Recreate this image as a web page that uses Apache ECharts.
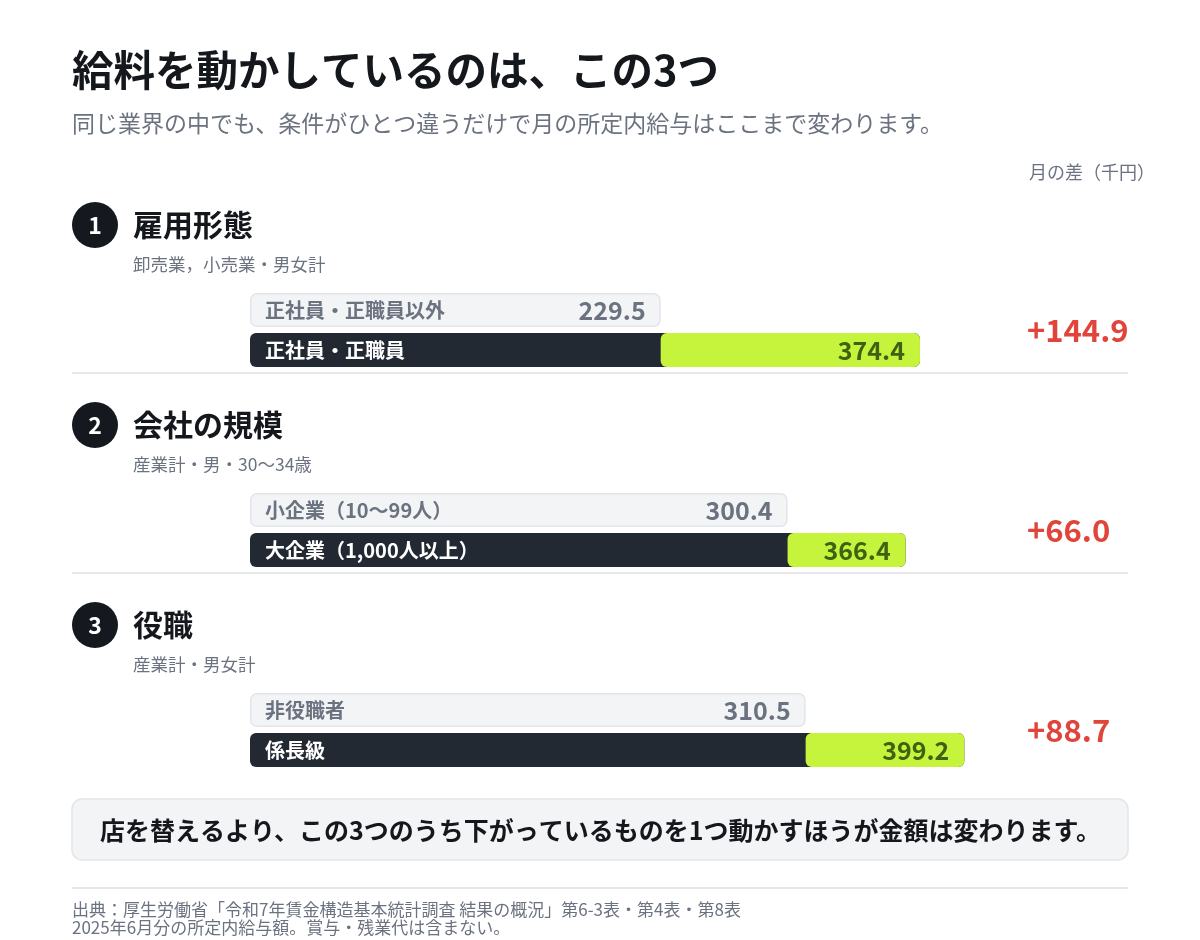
<!DOCTYPE html>
<html><head><meta charset="utf-8">
<script src="https://cdn.jsdelivr.net/npm/echarts@6/dist/echarts.min.js"></script>
<style>html,body{margin:0;padding:0;background:#fff}#c{width:1200px;height:940px}</style>
</head><body><div id="c"></div>
<script>
const titleText = '給料を動かしているのは、この3つ';
const subtitleText = '同じ業界の中でも、条件がひとつ違うだけで月の所定内給与はここまで変わります。';
const unitText = '月の差（千円）';
const sectionTitles = ['雇用形態', '会社の規模', '役職'];
const sectionNotes = ['卸売業，小売業・男女計', '産業計・男・30〜34歳', '産業計・男女計'];
const lowLabels = ['正社員・正職員以外', '小企業（10〜99人）', '非役職者'];
const highLabels = ['正社員・正職員', '大企業（1,000人以上）', '係長級'];
const lowValues = [229.5, 300.4, 310.5];
const highValues = [374.4, 366.4, 399.2];
const calloutText = '店を替えるより、この3つのうち下がっているものを1つ動かすほうが金額は変わります。';
const sourceLines = ['出典：厚生労働省「令和7年賃金構造基本統計調査 結果の概況」第6-3表・第4表・第8表', '2025年6月分の所定内給与額。賞与・残業代は含まない。'];

const FONT = '"Noto Sans CJK JP", "Noto Sans", sans-serif';
const X_MAX = 400, PX_PER = 1.7895, GRID_LEFT = 250, SEC_STEP = 200, GRID_TOP0 = 290, GRID_H = 80;
const BAR_W = 34;
const C = {ink:'#14171c', gray:'#6b7280', light:'#f3f4f6', lightBorder:'#e2e5ea', dark:'#222933', lime:'#c6f43c', olive:'#3f6212', red:'#e0443a', rule:'#e5e7eb'};

const grids = [], xAxes = [], yAxes = [], series = [], graphics = [];
sectionTitles.forEach((t, i) => {
  const top = GRID_TOP0 + SEC_STEP * i;
  grids.push({left: GRID_LEFT, top: top, width: X_MAX * PX_PER, height: GRID_H});
  xAxes.push({gridIndex: i, type: 'value', min: 0, max: X_MAX, show: false});
  yAxes.push({gridIndex: i, type: 'category', inverse: true, data: [lowLabels[i], highLabels[i]], show: false});
  const common = {type: 'bar', xAxisIndex: i, yAxisIndex: i, barWidth: BAR_W, barGap: '-100%', silent: true, animation: false};
  const labelFont = {fontFamily: FONT, fontWeight: 'bold'};
  series.push(Object.assign({}, common, {
    data: [
      {value: lowValues[i], itemStyle: {color: C.light, borderColor: C.lightBorder, borderWidth: 1.5, borderRadius: 6},
       label: {color: C.gray}},
      {value: highValues[i], itemStyle: {color: C.dark, borderRadius: 6}, label: {color: '#ffffff'}}
    ],
    label: Object.assign({show: true, position: 'insideLeft', distance: 15, formatter: '{b}', fontSize: 20}, labelFont)
  }));
  series.push(Object.assign({}, common, {
    data: [lowValues[i], '-'],
    itemStyle: {color: 'rgba(0,0,0,0)'},
    label: Object.assign({show: true, position: 'insideRight', distance: 15, color: C.gray, fontSize: 25,
      formatter: p => Number(p.value).toFixed(1)}, labelFont)
  }));
  series.push(Object.assign({}, common, {
    stack: 'gap' + i,
    data: ['-', lowValues[i]],
    itemStyle: {color: 'rgba(0,0,0,0)'}
  }));
  series.push(Object.assign({}, common, {
    stack: 'gap' + i,
    data: ['-', +(highValues[i] - lowValues[i]).toFixed(1)],
    itemStyle: {color: C.lime, borderRadius: 6},
    label: Object.assign({show: true, position: 'insideRight', distance: 15, color: C.olive, fontSize: 25,
      formatter: () => highValues[i].toFixed(1)}, labelFont)
  }));

  const cy = 225 + SEC_STEP * i;
  graphics.push({type: 'circle', shape: {cx: 95, cy: cy, r: 23}, style: {fill: '#15191f'}});
  graphics.push({type: 'text', x: 95, y: cy, style: {text: String(i + 1), fill: '#fff', font: 'bold 23px ' + FONT, align: 'center', verticalAlign: 'middle'}});
  graphics.push({type: 'text', x: 133, y: cy, style: {text: t, fill: C.ink, font: 'bold 30px ' + FONT, verticalAlign: 'middle'}});
  graphics.push({type: 'text', x: 133, y: cy + 39, style: {text: sectionNotes[i], fill: C.gray, font: '17.5px ' + FONT, verticalAlign: 'middle'}});
  const diff = highValues[i] - lowValues[i];
  graphics.push({type: 'text', x: 1027, y: top + GRID_H / 2, style: {text: '+' + diff.toFixed(1), fill: C.red, font: 'bold 31px ' + FONT, verticalAlign: 'middle'}});
  if (i < sectionTitles.length - 1) {
    graphics.push({type: 'line', shape: {x1: 72, y1: top + 83, x2: 1128, y2: top + 83}, style: {stroke: C.rule, lineWidth: 2}});
  }
});

graphics.push({type: 'text', x: 72, y: 70, style: {text: titleText, fill: C.ink, font: 'bold 41.5px ' + FONT, verticalAlign: 'middle'}});
graphics.push({type: 'text', x: 72, y: 123, style: {text: subtitleText, fill: C.gray, font: '23px ' + FONT, verticalAlign: 'middle'}});
graphics.push({type: 'text', x: 1155, y: 172, style: {text: unitText, fill: C.gray, font: '18px ' + FONT, align: 'right', verticalAlign: 'middle'}});
graphics.push({type: 'rect', shape: {x: 72, y: 799, width: 1056, height: 61, r: 10}, style: {fill: C.light, stroke: C.lightBorder, lineWidth: 1.5}});
graphics.push({type: 'text', x: 100, y: 830, style: {text: calloutText, fill: C.ink, font: 'bold 25px ' + FONT, verticalAlign: 'middle'}});
graphics.push({type: 'line', shape: {x1: 72, y1: 888, x2: 1128, y2: 888}, style: {stroke: C.rule, lineWidth: 2}});
sourceLines.forEach((s, k) => {
  graphics.push({type: 'text', x: 72, y: 910 + 18 * k, style: {text: s, fill: C.gray, font: '17px ' + FONT, verticalAlign: 'middle'}});
});

const chart = echarts.init(document.getElementById('c'), null, {renderer: 'canvas'});
chart.setOption({
  backgroundColor: '#ffffff',
  animation: false,
  grid: grids, xAxis: xAxes, yAxis: yAxes, series: series,
  graphic: {elements: graphics}
});
</script></body></html>
